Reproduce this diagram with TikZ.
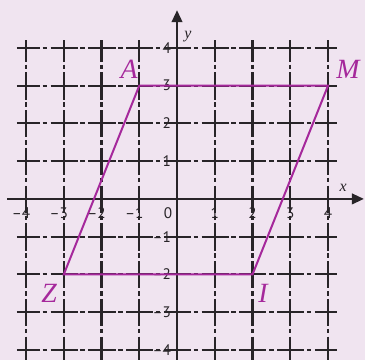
\documentclass[tikz,border=0pt]{standalone}
\usepackage{fontspec}
\setmainfont{Liberation Serif}
\newfontfamily\numfont{PT Sans}
\usetikzlibrary{arrows.meta}
\definecolor{bg}{RGB}{240,228,240}
\definecolor{gridc}{RGB}{40,36,40}
\definecolor{mag}{RGB}{165,40,155}
\begin{document}
\begin{tikzpicture}[x=1cm,y=1cm,
 gridline/.style={gridc, line width=1.6pt, dash pattern=on 0.72cm off 0.07cm on 0.12cm off 0.09cm},
 axisline/.style={gridc, line width=1.5pt, -{Triangle[length=9pt,width=8pt]}},
 ticklab/.style={font=\numfont\fontsize{11.5}{11.5}\selectfont, text=gridc, inner sep=0pt},
 ptlabel/.style={font=\fontsize{21}{21}\selectfont\itshape, text=mag, inner sep=0pt},
 axlabel/.style={font=\fontsize{12}{12}\selectfont\itshape, text=gridc, inner sep=0pt},
 quad/.style={mag, line width=1.5pt, line join=miter}]
\fill[bg] (-4.69,-4.26) rectangle (4.98,5.27);
\useasboundingbox (-4.69,-4.26) rectangle (4.98,5.27);
% grid
\foreach \y in {-4,...,4} \draw[gridline, dash phase=0.11cm] (-4.24,\y) -- (4.24,\y);
\foreach \x in {-4,...,4} \draw[gridline, dash phase=0.15cm] (\x,4.2) -- (\x,-4.3);
% axes
\coordinate (xs) at (-4.5,0);
\coordinate (xe) at (4.95,0);
\coordinate (ys) at (0,-4.3);
\coordinate (ye) at (0,5.0);
\draw[axisline] (xs) -- (xe);
\draw[axisline] (ys) -- (ye);
\node[axlabel] (xl) at (4.40,0.30) {x};
\node[axlabel] (yl) at (0.29,4.30) {y};
% tick labels
\foreach \x in {-4,...,-1} \node[ticklab] (tx\x) at (\x,-0.37) {\llap{–}\the\numexpr-\x\relax};
\node[ticklab] (t0) at (-0.24,-0.37) {0};
\foreach \x in {1,...,4} \node[ticklab] (tx\x) at (\x,-0.37) {\x};
\foreach \y in {1,...,4} \node[ticklab] (ty\y) at (-0.27,\y) {\y};
\foreach \y in {-4,...,-1} \node[ticklab] (ty\y) at (-0.27,\y) {\llap{–}\the\numexpr-\y\relax};
% parallelogram
\coordinate (A) at (-1,3);
\coordinate (M) at (4,3);
\coordinate (I) at (2,-2);
\coordinate (Z) at (-3,-2);
\draw[quad] (A) -- (M) -- (I) -- (Z) -- cycle;
\node[ptlabel] (lA) at (-1.27,3.44) {A};
\node[ptlabel] (lM) at (4.53,3.42) {M};
\node[ptlabel] (lZ) at (-3.39,-2.49) {Z};
\node[ptlabel] (lI) at (2.28,-2.49) {I};
\end{tikzpicture}
\end{document}
